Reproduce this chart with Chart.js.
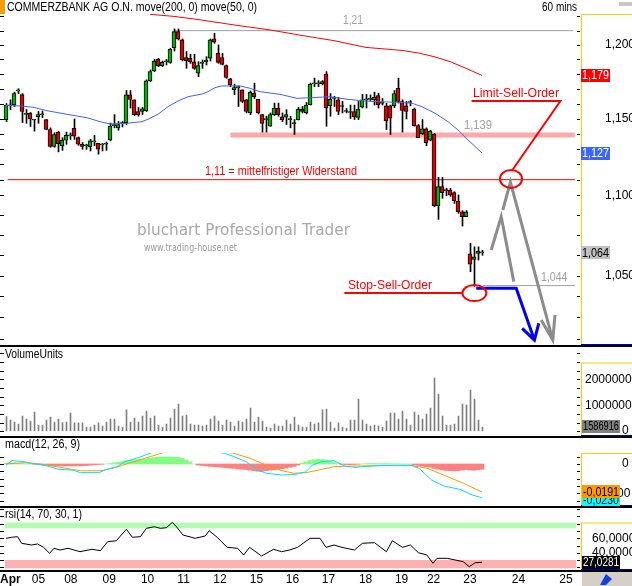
<!DOCTYPE html>
<html><head><meta charset="utf-8">
<script src="https://cdn.jsdelivr.net/npm/chart.js@4.4.1/dist/chart.umd.min.js"></script>
<style>
html,body{margin:0;padding:0;background:#fff;}
body{width:632px;height:586px;position:relative;overflow:hidden;}
canvas{position:absolute;left:0;}
.sep{position:absolute;left:0;width:632px;height:2px;background:#000;}
</style></head><body>
<canvas id="cMain" width="632" height="347" style="top:0px"></canvas>
<canvas id="cVol" width="632" height="89" style="top:347px"></canvas>
<canvas id="cMacd" width="632" height="70" style="top:436px"></canvas>
<canvas id="cRsi" width="632" height="80" style="top:506px"></canvas>
<div class="sep" style="top:345px"></div>
<div class="sep" style="top:436px"></div>
<div class="sep" style="top:506px"></div>
<div class="sep" style="top:570px"></div>
<script>
// ---------------- DATA ----------------
const titleText = 'COMMERZBANK AG O.N. move(200, 0) move(50, 0)';
const openP = [1.1493,1.1585,1.1590,1.1685,1.1661,1.1528,1.1537,1.1490,1.1511,1.1525,
1.1493,1.1427,1.1316,1.1410,1.1320,1.1356,1.1385,1.1434,1.1373,1.1330,
1.1320,1.1314,1.1345,1.1336,1.1326,1.1330,1.1358,1.1453,1.1438,1.1466,
1.1473,1.1659,1.1625,1.1547,1.1547,1.1552,1.1753,1.1821,1.1900,1.1857,
1.1884,1.1880,1.1981,1.2093,1.2035,1.1912,1.1908,1.1884,1.1805,1.1873,
1.1884,1.1908,1.2042,1.1942,1.1912,1.1857,1.1767,1.1692,1.1707,1.1692,
1.1625,1.1537,1.1670,1.1628,1.1526,1.1493,1.1449,1.1526,1.1570,1.1511,
1.1509,1.1493,1.1466,1.1493,1.1563,1.1537,1.1593,1.1733,1.1733,1.1733,
1.1800,1.1586,1.1634,1.1625,1.1580,1.1547,1.1540,1.1547,1.1508,1.1576,
1.1625,1.1628,1.1625,1.1654,1.1601,1.1584,1.1584,1.1584,1.1703,1.1614,
1.1584,1.1607,1.1563,1.1453,1.1399,1.1432,1.1356,1.1395,1.0932,1.1055,
1.1030,1.1034,1.1017,1.0964,1.0896,1.0865,1.0633,1.0600,1.0637,1.0640];
const highP = [1.1600,1.1625,1.1677,1.1700,1.1667,1.1560,1.1540,1.1493,1.1547,1.1550,
1.1493,1.1438,1.1405,1.1416,1.1373,1.1410,1.1405,1.1497,1.1378,1.1341,
1.1330,1.1362,1.1388,1.1336,1.1334,1.1345,1.1470,1.1526,1.1480,1.1480,
1.1688,1.1688,1.1625,1.1574,1.1574,1.1760,1.1828,1.1900,1.1907,1.1889,
1.1900,1.1977,1.2112,1.2112,1.2042,1.1954,1.1936,1.1936,1.1884,1.1896,
1.1919,1.2042,1.2081,1.2000,1.1942,1.1862,1.1771,1.1731,1.1718,1.1692,
1.1628,1.1685,1.1738,1.1628,1.1526,1.1515,1.1537,1.1603,1.1603,1.1537,
1.1559,1.1515,1.1493,1.1574,1.1580,1.1607,1.1738,1.1772,1.1755,1.1755,
1.1816,1.1667,1.1648,1.1641,1.1614,1.1567,1.1590,1.1590,1.1614,1.1661,
1.1661,1.1658,1.1677,1.1670,1.1634,1.1601,1.1590,1.1688,1.1772,1.1625,
1.1614,1.1620,1.1570,1.1460,1.1493,1.1438,1.1423,1.1402,1.1115,1.1115,
1.1045,1.1045,1.1023,1.1002,1.0903,1.0903,1.0699,1.0677,1.0677,1.0655];
const lowP = [1.1480,1.1559,1.1580,1.1667,1.1473,1.1468,1.1447,1.1416,1.1468,1.1505,
1.1427,1.1310,1.1310,1.1280,1.1290,1.1330,1.1362,1.1362,1.1323,1.1297,
1.1297,1.1286,1.1320,1.1265,1.1286,1.1290,1.1352,1.1438,1.1422,1.1444,
1.1460,1.1570,1.1520,1.1515,1.1526,1.1547,1.1749,1.1816,1.1850,1.1850,
1.1862,1.1873,1.1958,1.2035,1.1889,1.1839,1.1873,1.1832,1.1782,1.1839,
1.1862,1.1889,1.2012,1.1873,1.1862,1.1771,1.1714,1.1659,1.1580,1.1607,
1.1537,1.1526,1.1634,1.1530,1.1410,1.1410,1.1449,1.1520,1.1515,1.1480,
1.1460,1.1438,1.1394,1.1490,1.1537,1.1530,1.1590,1.1714,1.1714,1.1726,
1.1449,1.1515,1.1580,1.1526,1.1537,1.1537,1.1500,1.1493,1.1493,1.1570,
1.1570,1.1620,1.1590,1.1570,1.1590,1.1427,1.1394,1.1572,1.1603,1.1410,
1.1497,1.1584,1.1449,1.1373,1.1394,1.1320,1.1352,1.0928,1.0848,1.0981,
1.0997,1.0993,1.0949,1.0886,1.0806,1.0865,1.0524,1.0435,1.0596,1.0625];
const closeP = [1.1590,1.1585,1.1667,1.1685,1.1547,1.1528,1.1497,1.1490,1.1526,1.1525,
1.1427,1.1316,1.1394,1.1334,1.1356,1.1388,1.1385,1.1383,1.1330,1.1316,
1.1320,1.1352,1.1345,1.1297,1.1326,1.1330,1.1449,1.1453,1.1460,1.1466,
1.1659,1.1628,1.1526,1.1526,1.1565,1.1753,1.1816,1.1889,1.1857,1.1880,
1.1884,1.1970,1.2093,1.2042,1.1896,1.1889,1.1884,1.1839,1.1857,1.1873,
1.1896,1.2035,1.2019,1.1880,1.1866,1.1776,1.1726,1.1707,1.1707,1.1614,
1.1547,1.1677,1.1644,1.1537,1.1468,1.1493,1.1526,1.1570,1.1526,1.1493,
1.1526,1.1493,1.1466,1.1563,1.1547,1.1590,1.1731,1.1733,1.1733,1.1749,
1.1570,1.1628,1.1634,1.1547,1.1580,1.1547,1.1540,1.1511,1.1563,1.1625,
1.1625,1.1628,1.1641,1.1590,1.1601,1.1484,1.1503,1.1667,1.1614,1.1554,
1.1547,1.1607,1.1453,1.1373,1.1432,1.1341,1.1416,1.0932,1.1055,1.1017,
1.1030,1.1002,1.0966,1.0896,1.0865,1.0896,1.0571,1.0616,1.0651,1.0640];
const volume = [5.64,4.36,3.59,2.82,5.90,4.74,3.97,7.44,2.44,2.44,
4.36,5.51,3.59,4.74,3.33,3.59,7.05,3.21,3.21,3.21,
1.67,1.67,2.44,3.21,2.05,3.59,4.74,4.74,2.05,1.67,
8.21,3.59,5.13,3.59,5.90,7.82,5.13,5.90,2.44,1.67,
2.82,5.13,8.59,10.51,5.90,6.28,2.82,2.44,2.44,2.05,
2.44,4.74,5.90,3.97,2.44,4.36,3.59,2.05,3.97,3.59,
4.74,8.97,3.59,5.51,3.97,1.67,1.28,2.82,2.05,2.05,
4.36,2.82,5.51,2.44,1.67,1.67,3.59,2.82,3.21,8.21,
8.59,3.59,1.28,3.21,1.67,1.28,4.36,4.36,12.44,4.36,
2.82,2.05,2.44,2.05,1.67,3.97,7.05,7.05,4.74,7.82,
4.74,2.44,7.44,6.28,4.74,6.67,8.97,20.51,14.36,5.90,
2.44,2.44,2.82,5.90,10.51,10.13,15.90,12.44,4.36,1.586916].map(v=>v*1e6);
const ma200Idx = [36,42,48,57,66,74,82,90,99,103,107,111,115,119];
const ma200Val = [1.2215,1.2200,1.2178,1.2140,1.2105,1.2066,1.2030,1.1983,1.1962,1.1945,1.1919,1.1885,1.1839,1.1790];
const ma50Idx = [0,3.5,6.75,10.25,15.25,20.25,23.5,26,29.75,34,35.5,38,40.5,43,45.5,49,50.5,52.25,54,58.5,61,63.5,68.5,72.75,76,81,85.25,88.5,92.25,98,101.5,104,107.25,110.5,113,115.5,119];
const ma50Val = [1.1587,1.1584,1.1575,1.1552,1.1528,1.1505,1.1479,1.1464,1.1467,1.1479,1.1495,1.1528,1.1579,1.1617,1.1646,1.1664,1.1680,1.1707,1.1719,1.1719,1.1703,1.1680,1.1662,1.1635,1.1639,1.1646,1.1629,1.1620,1.1613,1.1608,1.1602,1.1579,1.1535,1.1479,1.1424,1.1358,1.1273];
const macdIdx = [0,1.5,4.5,6.5,10.5,13,16.6,18.6,23.2,25.25,27.75,29.75,31.75,33.75,36,39,42,45,48,51,54.6,57,60,63,65,69,72.5,75,76.6,79,82,84.7,87.25,89.25,94.25,99.25,101.25,103.25,106.4,109.4,113.5,116.5,119];
const macdVal = [-0.0007,0.0023,0.0016,0.0005,-0.0014,-0.0036,-0.0041,-0.0059,-0.0059,-0.0036,-0.0018,0.0016,0.0032,0.0050,0.0073,0.0095,0.0110,0.0110,0.0100,0.0090,0.0073,0.0050,0.0016,-0.0041,-0.0063,-0.0075,-0.0070,-0.0053,-0.0007,0.0016,0.0023,-0.0014,-0.0023,-0.0018,-0.0009,-0.0009,-0.0009,-0.0029,-0.0109,-0.0150,-0.0173,-0.0211,-0.0230];
const signalIdx = [0,4.5,8.5,13.6,18.6,23.7,26.75,30.75,34.75,39.25,44,48,52,57,61,65,69,72,75,79,82,87.25,99.25,101.25,105.25,109.4,114.4,119];
const signalVal = [0,0.0009,0,-0.0023,-0.0046,-0.0046,-0.0029,0.0005,0.0039,0.0077,0.0095,0.0100,0.0092,0.0073,0.0039,-0.0007,-0.0046,-0.0063,-0.0059,-0.0036,-0.0018,-0.0014,-0.0009,-0.0009,-0.0029,-0.0075,-0.0132,-0.0191];
const histogram = [0.0006,0.0008,0.0008,0.0005,0.0003,0,0,
-0.0002,-0.0004,-0.0006,-0.0008,-0.0010,-0.0011,-0.0012,-0.0012,-0.0013,-0.0013,-0.0013,-0.0012,-0.0012,-0.0011,-0.0008,-0.0006,-0.0004,-0.0002,
0,
0.0003,0.0008,0.0012,0.0016,0.0022,0.0025,0.0028,0.0030,0.0033,0.0036,0.0040,0.0044,0.0047,0.0048,0.0048,0.0047,0.0046,0.0045,0.0038,0.0028,0.0015,
0,
-0.0007,-0.0010,-0.0013,-0.0016,-0.0018,-0.0020,-0.0022,-0.0025,-0.0028,-0.0030,-0.0033,-0.0036,-0.0038,-0.0042,-0.0046,-0.0050,-0.0050,-0.0046,-0.0042,-0.0040,-0.0036,-0.0032,-0.0028,-0.0022,-0.0016,-0.0008,
0.0006,0.0014,0.0024,0.0030,0.0032,0.0030,0.0026,0.0018,0.0010,0.0003,
-0.0002,-0.0004,-0.0005,-0.0004,-0.0002,0,0.0002,0.0003,0.0003,0.0002,0.0002,0.0003,0.0002,0.0001,0.0001,0,0,0,
-0.0006,-0.0010,-0.0014,-0.0018,-0.0022,-0.0030,-0.0036,-0.0040,-0.0044,-0.0046,-0.0047,-0.0046,-0.0042,-0.0038,-0.0040,-0.0042,-0.0040,-0.0036];
const rsiIdx = [0,1.4,2.9,3.9,6.4,7.9,9.4,10.9,12,13.5,15.5,18.5,21.5,23.6,25.4,27.6,28.6,30.1,31.6,33.6,35.1,37.1,38.6,40.1,41.6,42.6,44.25,47.3,49.8,50.8,52.8,55.3,57.9,59.4,60.9,63.9,66.9,68.9,70.9,72.9,76,78.5,80,82,84,87.1,89.1,92.1,95.1,96.6,99.1,101.1,103.1,105.2,106.75,107.75,110.3,114.3,115.8,117.3,119];
const rsiVal = [60.0,61.4,62.2,53.1,50.8,52.2,47.6,39.4,46.3,43.9,46.3,41.6,44.9,43.0,55.3,56.7,63.2,72.4,61.4,62.2,73.7,75.9,73.7,74.6,82.0,75.9,64.5,60.0,63.2,70.4,61.4,47.6,46.3,37.1,47.6,35.7,44.9,41.6,43.9,47.6,60.0,60.0,47.6,50.8,47.6,43.9,53.1,54.0,41.6,56.7,47.6,50.8,40.2,37.1,25.7,32.5,32.5,27.9,21.0,26.5,27.0281];
const rsiHighBand = [73.7, 81.4];
const rsiLowBand = [18.8, 30.2];
const dayLabelText = ['05','08','09','10','11','12','15','16','17','18','19','22','23','24','25'];
const dayLabelIdx = [8.1,16.2,25.8,35.4,44.4,53.5,62.6,71.6,80.6,89.9,98.9,106.9,116,128.1,140];
const priceTickVals = [1.20,1.15,1.10,1.05];
const volTickVals = [20000000,10000000];
const macdTickVals = [0,-0.02];
const rsiTickVals = [60,40];
const levelResist = 1.21, levelBand = 1.139, levelMid = 1.11, levelStop = 1.044;
const lastClose = 1.064, lastMa200 = 1.179, lastMa50 = 1.127;
const lastVolume = 1586916, lastMacd = -0.0230, lastSignal = -0.0191, lastRsi = 27.0281;
// annotation paths (bar index, price)
const grayPath1 = [[121.3,1.0657],[123.8,1.0865],[126.95,1.0464]];
const grayPath2 = [[124.2,1.0907],[126.1,1.1085],[136.7,1.0116]];
const grayHead = [[133.8,1.0234],[136.7,1.0116],[137.25,1.0265]];
const bluePath = [[117.55,1.0424],[127.55,1.0424],[132.1,1.0116]];
const blueHead = [[129.05,1.0185],[132.1,1.0116],[133.2,1.0215]];
const limitLine = [[116.4,1.1617],[138.6,1.1617],[126.6,1.1162]];
const stopLine = [[84.6,1.0395],[114.1,1.0395]];
const limitCircle = [126.25,1.1105];
const stopCircle = [117.1,1.0395];

// ---------------- HELPERS ----------------
const FONT = '"Liberation Sans", Arial, sans-serif';
const XMIN = -1.5, XMAX = 142.5;          // body / line axis: bar i centred on pixel edge
const XMIN_W = -1.625, XMAX_W = 142.375;  // 1px marks axis: bar i centred on a pixel
function T(ctx,s,x,y,size,color,align,width,weight,family,maxW){
  ctx.save();
  ctx.font=(weight||'normal')+' '+size+'px '+(family||FONT);
  ctx.fillStyle=color; ctx.textBaseline='middle'; ctx.textAlign=align||'left';
  ctx.translate(x,y);
  const w=ctx.measureText(s).width;
  if(width){ctx.scale(width/w,1);} else if(maxW && w>maxW){ctx.scale(maxW/w,1);}
  ctx.fillText(s,0,0); ctx.restore();
}
function L(ctx,x1,y1,x2,y2,color,w){ctx.save();ctx.strokeStyle=color;ctx.lineWidth=w||1;ctx.beginPath();ctx.moveTo(x1,y1);ctx.lineTo(x2,y2);ctx.stroke();ctx.restore();}
function fmt(v,d){return v.toFixed(d).replace('.',',');}
function box(ctx,s,y,x,w,bg,fg){ctx.fillStyle=bg;ctx.fillRect(x,Math.round(y-6.5),w,13);T(ctx,s,x+1,y+0.5,12,fg,'left',null,'normal',null,w-2);}
function rightFrame(ctx,top,bottom){
  L(ctx,581.5,top,581.5,bottom,'#ffcc00',1);
  L(ctx,581,top+0.5,632,top+0.5,'#ffcc00',1);
  L(ctx,581,bottom-0.5,632,bottom-0.5,'#0000c0',1);
}
function pts(a){return a.map(p=>({x:p[0],y:p[1]}));}
function lineDS(data,color,w,order){return {type:'line',data,borderColor:color,borderWidth:w,pointRadius:0,tension:0,fill:false,order};}
function commonOpts(padTop,padBottom,yScale){
  return {responsive:false,animation:false,events:[],
    layout:{padding:{left:0,right:56,top:padTop,bottom:padBottom}},
    scales:{
      x:{type:'linear',min:XMIN,max:XMAX,offset:false,display:false},
      xw:{type:'linear',axis:'x',position:'bottom',min:XMIN_W,max:XMAX_W,offset:false,display:false},
      y:Object.assign({display:false},yScale)},
    plugins:{legend:{display:false},tooltip:{enabled:false}}};
}
const idx = openP.map((_,i)=>i);

// ---------------- MAIN PRICE PANEL ----------------
const PMAX = 1.2217, PMIN = 1.00872;
const mainPlugin = {id:'mainDeco', afterDraw(chart){
  const c=chart.ctx, X=v=>chart.scales.x.getPixelForValue(v), Y=v=>chart.scales.y.getPixelForValue(v);
  c.fillStyle='#f5a000'; c.fillRect(0,0,5,14);
  T(c,titleText,7,7.5,12,'#000','left',250);
  T(c,'60 mins',577,7.5,12,'#000','right',35);
  c.fillStyle='#c8c8c8'; c.fillRect(619,2,13,4);
  // watermark
  T(c,'bluchart Professional Trader',137,231,16,'#a8a8a8','left',213,'normal','"DejaVu Sans", sans-serif');
  T(c,'www.trading-house.net',144,248,10,'#999999','left',93,'normal','"DejaVu Sans", sans-serif');
  // level labels
  T(c,fmt(levelResist,2),353,Y(levelResist)-10,12,'#a0a0a0','center',20);
  T(c,fmt(levelBand,3),464,Y(levelBand)-9.5,12,'#a0a0a0','left',28);
  T(c,fmt(levelMid,2)+' = mittelfristiger Widerstand',205,Y(levelMid)-8,12,'#ff0000','left',152);
  T(c,fmt(levelStop,3),541,Y(levelStop)-8,12,'#a0a0a0','left',26.5);
  T(c,'Limit-Sell-Order',473,94,12,'#ff0000','left',86);
  T(c,'Stop-Sell-Order',348,286,12,'#ff0000','left',84);
  c.save(); c.strokeStyle='#ff0000'; c.lineWidth=2;
  c.beginPath(); c.ellipse(X(limitCircle[0]),Y(limitCircle[1]),11,9,0,0,2*Math.PI); c.stroke();
  c.beginPath(); c.ellipse(X(stopCircle[0]),Y(stopCircle[1]),12,8,0,0,2*Math.PI); c.stroke();
  c.restore();
  // right axis
  rightFrame(c,14,345);
  for(let v=1.22;v>=1.0999;v-=0.01){const y=Math.round(Y(v))+0.5;L(c,577,y,580,y,'#000',1);L(c,0,y,4,y,'#000',1);}
  for(let v=1.0875;v>=1.01;v-=0.0125){const y=Math.round(Y(v))+0.5;L(c,577,y,580,y,'#000',1);L(c,0,y,4,y,'#000',1);}
  priceTickVals.forEach(v=>T(c,fmt(v,3),605,Y(v),12,'#000','left'));
  box(c,fmt(lastMa200,3),Y(lastMa200),581,29,'#ff0000','#fff');
  box(c,fmt(lastMa50,3),Y(lastMa50),581,29,'#3c64ff','#fff');
  box(c,fmt(lastClose,3),Y(lastClose),581,29,'#c0c0c0','#000');
}};
new Chart(document.getElementById('cMain'),{
  type:'bar',
  data:{datasets:[
    lineDS([{x:42,y:levelResist},{x:141.75,y:levelResist}],'#a0a0a0',1,20),
    lineDS([{x:56.1,y:levelBand},{x:142.2,y:levelBand}],'#ffaaaa',5,21),
    lineDS([{x:0.4,y:levelMid},{x:142.2,y:levelMid}],'#ff0000',1,19),
    lineDS([{x:119.25,y:levelStop},{x:142.2,y:levelStop}],'#a0a0a0',1,18),
    {type:'bar',xAxisID:'xw',data:idx.map(i=>({x:i,y:[lowP[i],highP[i]]})),backgroundColor:'#000',barThickness:1,grouped:false,order:6},
    {type:'bar',data:idx.map(i=>({x:i,y:[openP[i],closeP[i]]})),
      backgroundColor:idx.map(i=>closeP[i]>=openP[i]?'#00b400':'#e00000'),
      borderColor:'#000',borderWidth:1,borderSkipped:false,barThickness:4,minBarLength:1,grouped:false,order:5},
    lineDS(ma200Idx.map((x,k)=>({x,y:ma200Val[k]})),'#ff0000',1,4),
    lineDS(ma50Idx.map((x,k)=>({x,y:ma50Val[k]})),'#3c64ff',1,4),
    lineDS(pts(limitLine),'#ff0000',2,2),
    lineDS(pts(stopLine),'#ff0000',2,2),
    lineDS(pts(grayPath1),'#8c8c8c',3,1),
    lineDS(pts(grayPath2),'#8c8c8c',3,1),
    lineDS(pts(grayHead),'#8c8c8c',3,1),
    lineDS(pts(bluePath),'#0000ff',3,0),
    lineDS(pts(blueHead),'#0000ff',3,0)
  ]},
  options:commonOpts(14,2,{type:'logarithmic',min:PMIN,max:PMAX}),
  plugins:[mainPlugin]
});

// ---------------- VOLUME PANEL ----------------
const VMAX = 30.5e6;
const volPlugin = {id:'volDeco', afterDraw(chart){
  const c=chart.ctx, Y=v=>chart.scales.y.getPixelForValue(v);
  T(c,'VolumeUnits',5,8,12,'#000','left',58);
  rightFrame(c,15.5,89);
  for(let v=0;v<=VMAX;v+=10e6/3){const y=Math.round(Y(v))+0.5;L(c,577,y,580,y,'#000',1);L(c,0,y,4,y,'#000',1);}
  volTickVals.forEach(v=>T(c,String(v),585,Y(v),12,'#000','left'));
  T(c,'0',622,Y(0)-1,12,'#000','left');
  box(c,String(lastVolume),Y(lastVolume)-1,582,38,'#808080','#000');
}};
new Chart(document.getElementById('cVol'),{
  type:'bar',
  data:{datasets:[{xAxisID:'xw',data:idx.map(i=>({x:i,y:volume[i]})),backgroundColor:'#808080',barThickness:1,grouped:false}]},
  options:commonOpts(5,4.7,{type:'linear',min:0,max:VMAX}),
  plugins:[volPlugin]
});

// ---------------- MACD PANEL ----------------
const macdPlugin = {id:'macdDeco', afterDraw(chart){
  const c=chart.ctx, Y=v=>chart.scales.y.getPixelForValue(v);
  T(c,'macd(12, 26, 9)',5,9,12,'#000','left',75);
  rightFrame(c,17,70);
  for(let v=0.005;v>=-0.03;v-=0.005){const y=Math.round(Y(v))+0.5;if(y>17&&y<70){L(c,577,y,580,y,'#000',1);L(c,0,y,4,y,'#000',1);}}
  T(c,'0',622,Y(0),12,'#000','left');
  T(c,'-0,02000',583,Y(-0.02),12,'#000','left');
  box(c,fmt(lastMacd,4),Y(lastMacd)+2,582,38,'#00ffff','#000');
  box(c,fmt(lastSignal,4),Y(lastSignal),582,38,'#ff9900','#000');
}};
new Chart(document.getElementById('cMacd'),{
  type:'bar',
  data:{datasets:[
    {type:'bar',data:idx.map(i=>({x:i,y:histogram[i]})),backgroundColor:idx.map(i=>histogram[i]>=0?'#80ff80':'#ff8080'),barThickness:4,grouped:false,order:3},
    lineDS(signalIdx.map((x,k)=>({x,y:signalVal[k]})),'#ff9900',1,1),
    lineDS(macdIdx.map((x,k)=>({x,y:macdVal[k]})),'#00e0ff',1,0)
  ]},
  options:commonOpts(17,0,{type:'linear',min:-0.02865,max:0.0075}),
  plugins:[macdPlugin]
});

// ---------------- RSI PANEL + TIME AXIS ----------------
const rsiPlugin = {id:'rsiDeco',
 beforeDatasetsDraw(chart){
  const c=chart.ctx, Y=v=>chart.scales.y.getPixelForValue(v), a=chart.chartArea;
  c.fillStyle='#b0ffb0'; c.fillRect(a.left+5,Y(rsiHighBand[1]),a.right-a.left-5,Y(rsiHighBand[0])-Y(rsiHighBand[1]));
  c.fillStyle='#ffb0b0'; c.fillRect(a.left+5,Y(rsiLowBand[1]),a.right-a.left-5,Y(rsiLowBand[0])-Y(rsiLowBand[1]));
 },
 afterDraw(chart){
  const c=chart.ctx, X=v=>chart.scales.x.getPixelForValue(v), Y=v=>chart.scales.y.getPixelForValue(v);
  T(c,'rsi(14, 70, 30, 1)',5,9,12,'#000','left',77);
  rightFrame(c,16.5,64);
  for(let v=100;v>=20;v-=10){const y=Math.round(Y(v))+0.5;if(y>3&&y<64){L(c,577,y,580,y,'#000',1);L(c,0,y,4,y,'#000',1);}}
  rsiTickVals.forEach(v=>T(c,fmt(v,4),592,Y(v),12,'#000','left'));
  box(c,fmt(lastRsi,4),Y(lastRsi),582,38,'#000000','#fff');
  // time axis
  T(c,'Apr',0,74,12,'#000','left',null,'bold');
  dayLabelIdx.forEach((v,k)=>T(c,dayLabelText[k],X(v),74,12,'#000','center'));
  c.fillStyle='#d4d0c8'; c.fillRect(582,66,50,14);
  c.fillStyle='#1040e0'; c.beginPath(); c.moveTo(600,79); c.lineTo(606,68); c.lineTo(612,73); c.lineTo(606,79); c.closePath(); c.fill();
 }};
new Chart(document.getElementById('cRsi'),{
  type:'line',
  data:{datasets:[lineDS(rsiIdx.map((x,k)=>({x,y:rsiVal[k]})),'#000',1,0)]},
  options:commonOpts(3,16,{type:'linear',min:16.46,max:100.25}),
  plugins:[rsiPlugin]
});
</script></body></html>
